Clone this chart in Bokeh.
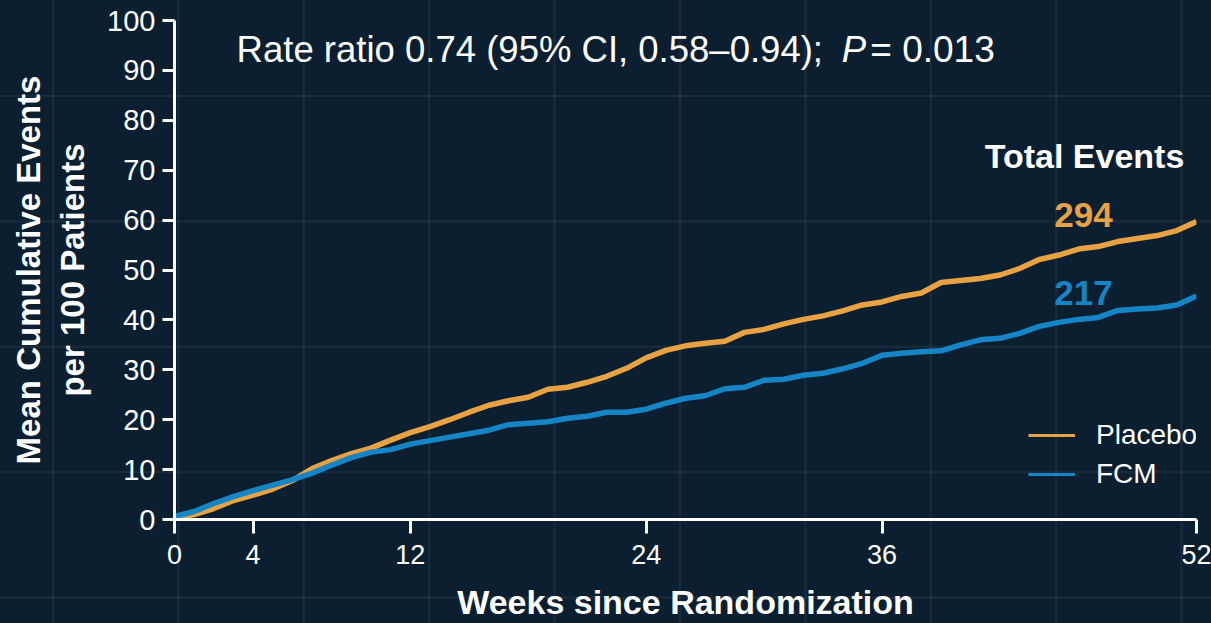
from bokeh.plotting import figure
from bokeh.models import FixedTicker, Label, Legend, LegendItem, Range1d
from bokeh.embed import file_html
from bokeh.resources import INLINE

# ---------------- data ----------------
weeks = [0, 1, 2, 3, 4, 5, 6, 7, 8, 9, 10, 11, 12, 13, 14, 15, 16, 17, 18, 19,
         20, 21, 22, 23, 24, 25, 26, 27, 28, 29, 30, 31, 32, 33, 34, 35, 36, 37,
         38, 39, 40, 41, 42, 43, 44, 45, 46, 47, 48, 49, 50, 51, 52]
placebo = [0.3, 1.0, 2.2, 3.8, 4.9, 6.1, 7.8, 10.2, 11.8, 13.2, 14.3, 15.9, 17.4,
           18.6, 20.0, 21.5, 22.9, 23.8, 24.5, 26.1, 26.5, 27.5, 28.7, 30.3, 32.4,
           33.9, 34.8, 35.3, 35.7, 37.5, 38.1, 39.2, 40.1, 40.8, 41.8, 43.0, 43.6,
           44.7, 45.4, 47.5, 47.9, 48.3, 49.0, 50.3, 52.1, 53.0, 54.2, 54.7, 55.7,
           56.3, 56.9, 57.9, 59.7]
fcm = [0.6, 1.6, 3.2, 4.6, 5.8, 6.9, 8.0, 9.3, 10.9, 12.4, 13.5, 14.0, 15.1,
       15.8, 16.5, 17.2, 17.9, 19.0, 19.3, 19.6, 20.3, 20.7, 21.5, 21.5, 22.1,
       23.3, 24.3, 24.8, 26.2, 26.5, 27.9, 28.1, 28.9, 29.3, 30.2, 31.3, 32.9,
       33.3, 33.6, 33.8, 35.0, 36.0, 36.3, 37.3, 38.7, 39.5, 40.1, 40.5, 41.9,
       42.2, 42.4, 43.0, 44.8]
series_names = ["Placebo", "FCM"]
total_events = [294, 217]
x_ticks = [0, 4, 12, 24, 36, 52]
y_ticks = [0, 10, 20, 30, 40, 50, 60, 70, 80, 90, 100]

ORANGE = "#E8A243"
BLUE = "#1585C5"
BG = "#0b1f30"
FONT = "Liberation Sans"
NAN = float("nan")

p = figure(width=1211, height=623, output_backend="svg", toolbar_location=None,
           x_range=Range1d(0, 52), y_range=Range1d(0, 100),
           min_border_left=174, min_border_right=15, min_border_top=20,
           min_border_bottom=104)
p.background_fill_color = None
p.border_fill_color = None
p.outline_line_color = None
p.xgrid.visible = False
p.ygrid.visible = False

# lines
p.line(weeks, placebo, line_color=ORANGE, line_width=5.5, line_join="round")
p.line(weeks, fcm, line_color=BLUE, line_width=5.5, line_join="round")

# axes
for ax in (p.xaxis[0], p.yaxis[0]):
    ax.axis_line_color = "white"
    ax.axis_line_width = 3
    ax.major_tick_line_color = "white"
    ax.major_tick_line_width = 3
    ax.major_tick_in = 0
    ax.minor_tick_line_color = None
    ax.major_label_text_color = "white"
    ax.major_label_text_font = FONT
    ax.axis_label_text_color = "white"
    ax.axis_label_text_font = FONT
    ax.axis_label_text_font_style = "bold"

p.xaxis.ticker = FixedTicker(ticks=x_ticks)
p.xaxis.major_tick_out = 14
p.xaxis.major_label_text_font_size = "27px"
p.xaxis.major_label_standoff = 11
p.xaxis.axis_label = "Weeks since Randomization"
p.xaxis.axis_label_text_font_size = "34px"
p.xaxis.axis_label_standoff = 16

p.yaxis.ticker = FixedTicker(ticks=y_ticks)
p.yaxis.major_tick_out = 12
p.yaxis.major_label_text_font_size = "29px"
p.yaxis.major_label_standoff = 7
p.yaxis.axis_label = "Mean Cumulative Events\nper 100 Patients"
p.yaxis.axis_label_text_font_size = "33px"
p.yaxis.axis_label_standoff = 13

# title annotation
title_y = 94.1
p.add_layout(Label(x=3.16, y=title_y, text="Rate ratio 0.74 (95% CI, 0.58\u20130.94); ",
                   text_color="white", text_font=FONT, text_font_size="36.5px",
                   text_baseline="alphabetic"))
p.add_layout(Label(x=33.95, y=title_y, text="P", text_color="white", text_font=FONT,
                   text_font_size="36.5px", text_font_style="italic",
                   text_baseline="alphabetic"))
p.add_layout(Label(x=35.4, y=title_y, text="= 0.013", text_color="white",
                   text_font=FONT, text_font_size="37px", text_baseline="alphabetic"))

# total events
p.add_layout(Label(x=46.3, y=72.9, text="Total Events", text_color="white",
                   text_font=FONT, text_font_size="34px", text_font_style="bold",
                   text_align="center", text_baseline="alphabetic"))
p.add_layout(Label(x=46.25, y=61.0, text=str(total_events[0]), text_color=ORANGE,
                   text_font=FONT, text_font_size="35px", text_font_style="bold",
                   text_align="center", text_baseline="alphabetic"))
p.add_layout(Label(x=46.25, y=45.4, text=str(total_events[1]), text_color=BLUE,
                   text_font=FONT, text_font_size="35px", text_font_style="bold",
                   text_align="center", text_baseline="alphabetic"))

# legend (thin sample lines; NaN data so nothing is drawn in the plot)
lg1 = p.line([0, 52], [NAN, NAN], line_color=ORANGE, line_width=3)
lg2 = p.line([0, 52], [NAN, NAN], line_color=BLUE, line_width=3)
legend = Legend(items=[LegendItem(label=series_names[0], renderers=[lg1]),
                       LegendItem(label=series_names[1], renderers=[lg2])],
                location=(854, 29), padding=0, margin=0, spacing=7,
                glyph_width=47, glyph_height=30, label_height=30,
                label_standoff=21, label_text_font=FONT,
                label_text_font_size="28px", label_text_color="white",
                background_fill_alpha=0, border_line_alpha=0)
p.add_layout(legend)

html = file_html(p, INLINE)
style = ("<style>html{background-color:%s;"
         "background-image:linear-gradient(to right, rgba(255,255,255,0.06) 0px, rgba(255,255,255,0.06) 2px, transparent 2px),"
         "linear-gradient(to bottom, rgba(255,255,255,0.06) 0px, rgba(255,255,255,0.06) 2px, transparent 2px);"
         "background-size:125.4px 125.4px;background-position:52px 95px;}"
         "body{background:transparent;margin:0;}</style>" % BG)
html = html.replace("</head>", style + "</head>", 1)
open("out.html", "w").write(html)
